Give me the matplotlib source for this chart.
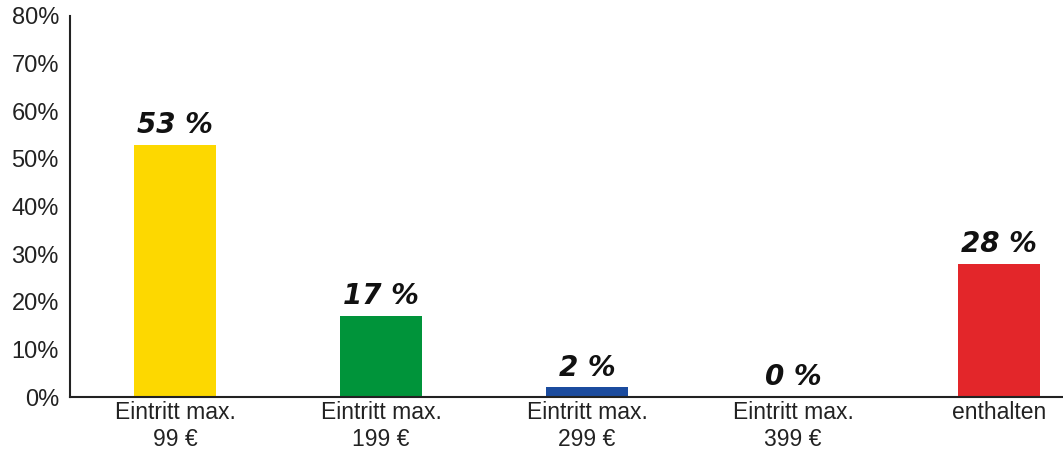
import matplotlib
matplotlib.use('Agg')
import matplotlib.pyplot as plt
import numpy as np

# data
categories = ["Eintritt max.\n99 €", "Eintritt max.\n199 €", "Eintritt max.\n299 €",
              "Eintritt max.\n399 €", "enthalten"]
values = [53, 17, 2, 0, 28]
value_labels = ["53 %", "17 %", "2 %", "0 %", "28 %"]
colors = ["#FDD800", "#00943A", "#1B4B9E", "#FFFFFF", "#E3262A"]
yticks = [0, 10, 20, 30, 40, 50, 60, 70, 80]

plt.rcParams['font.family'] = ['Liberation Sans', 'DejaVu Sans']

fig = plt.figure(figsize=(10.63, 4.53), dpi=100)
ax = fig.add_axes([0.0659, 0.1236, 0.934, 0.8411])

x = np.arange(len(categories))
ax.bar(x, values, width=0.4, color=colors)

for xi, v, lab in zip(x, values, value_labels):
    ax.annotate(lab, (xi, v), xytext=(0, 4), textcoords='offset points',
                ha='center', va='bottom', fontsize=20, fontweight='bold',
                style='italic', color='#111111', family='DejaVu Sans')

ax.set_xlim(-0.51, 4.31)
ax.set_ylim(0, 80)
ax.set_yticks(yticks)
ax.set_yticklabels([f"{t}%" for t in yticks], fontsize=17, color='#222222')
ax.set_xticks(x)
ax.set_xticklabels(categories, fontsize=16.5, color='#222222', linespacing=1.2)
ax.tick_params(axis='y', length=0, pad=8)
ax.tick_params(axis='x', length=0, pad=3)

for side in ['top', 'right']:
    ax.spines[side].set_visible(False)
for side in ['left', 'bottom']:
    ax.spines[side].set_linewidth(1.5)
    ax.spines[side].set_color('#222222')

plt.savefig('out.png', dpi=100, facecolor='white')
plt.close()
